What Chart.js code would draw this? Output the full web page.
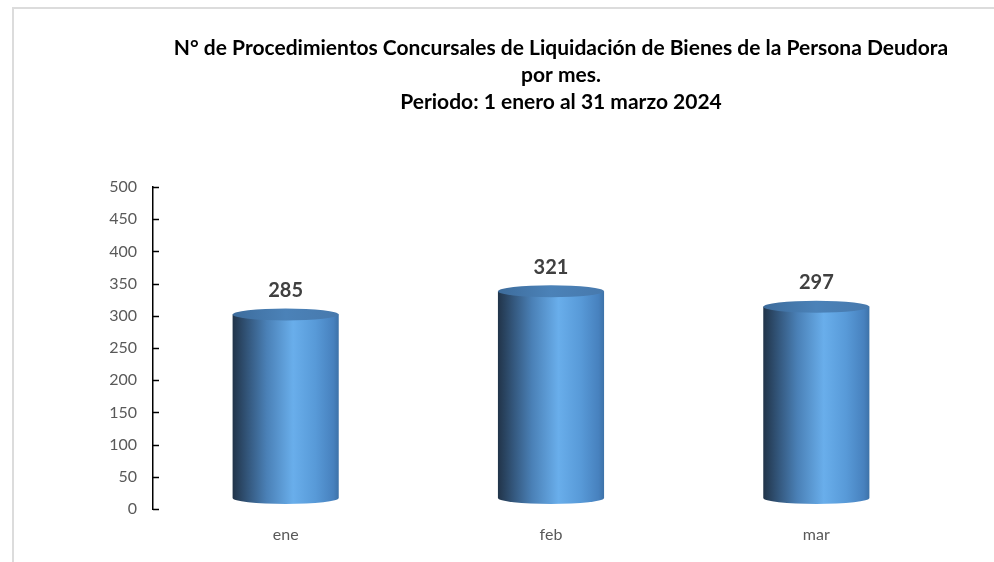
<!DOCTYPE html>
<html>
<head>
<meta charset="utf-8">
<script src="https://cdn.jsdelivr.net/npm/chart.js@4.4.1/dist/chart.umd.min.js"></script>
<style>
    html, body { margin: 0; padding: 0; background: #fff; overflow: hidden; }
    #wrap { position: relative; width: 994px; height: 562px; }
    #frame { position: absolute; left: 12px; top: 7px; width: 1100px; height: 700px; border: 2px solid #dcdcdc; }
    #chart { position: absolute; left: 0; top: 0; }
</style>
</head>
<body>
<div id="wrap">
    <div id="frame"></div>
    <canvas id="chart" width="994" height="562"></canvas>
</div>
<script>
const titleLines = [
    'N° de Procedimientos Concursales de Liquidación de Bienes de la Persona Deudora',
    'por mes.',
    'Periodo: 1 enero al 31 marzo 2024'
];
const months = ['ene', 'feb', 'mar'];
const procedimientos = [285, 321, 297];
const yMin = 0;
const yMax = 500;
const yStep = 50;

const charts = {};

// 3D offset of the Excel-style cylinders
const depth = 11;
const rimHeight = 6;

const chartTitle = {
    id: 'chartTitle',
    afterDraw(chart) {
        const ctx = chart.ctx;
        ctx.save();
        ctx.font = 'bold 21px Lato, "Open Sans", sans-serif';
        ctx.fillStyle = '#000';
        ctx.textAlign = 'center';
        ctx.textBaseline = 'middle';
        titleLines.forEach((line, i) => ctx.fillText(line, 561, 48 + i * 27));
        ctx.restore();
    }
};

const cylinders = {
    id: 'cylinders',
    afterDatasetsDraw(chart) {
        const ctx = chart.ctx;
        const meta = chart.getDatasetMeta(0);
        meta.data.forEach((bar, i) => {
            const { x, y, base, width } = bar.getProps(['x', 'y', 'base', 'width'], true);
            const l = x - width / 2, r = x + width / 2;
            const top = y - depth, bottom = base - depth;

            const body = ctx.createLinearGradient(l, 0, r, 0);
            body.addColorStop(0, '#213449');
            body.addColorStop(0.15, '#34587e');
            body.addColorStop(0.32, '#4a80b6');
            body.addColorStop(0.57, '#69aeeb');
            body.addColorStop(0.78, '#589ad8');
            body.addColorStop(0.95, '#4781be');
            body.addColorStop(1, '#3d72a8');

            ctx.save();
            ctx.fillStyle = body;
            ctx.beginPath();
            ctx.moveTo(l, top);
            ctx.lineTo(l, bottom);
            ctx.ellipse(x, bottom, width / 2, rimHeight, 0, Math.PI, 0, true);
            ctx.lineTo(r, top);
            ctx.closePath();
            ctx.fill();

            const cap = ctx.createLinearGradient(l, 0, r, 0);
            cap.addColorStop(0, '#3d6c9c');
            cap.addColorStop(0.5, '#4b82b8');
            cap.addColorStop(1, '#4779ad');
            ctx.fillStyle = cap;
            ctx.beginPath();
            ctx.ellipse(x, top, width / 2, rimHeight, 0, 0, Math.PI * 2);
            ctx.fill();

            // value label
            ctx.font = 'bold 20px Lato, "Open Sans", sans-serif';
            ctx.fillStyle = '#404040';
            ctx.textAlign = 'center';
            ctx.textBaseline = 'middle';
            ctx.fillText(procedimientos[i], x, top - 24);
            ctx.restore();
        });
    }
};

const innerTicks = {
    id: 'innerTicks',
    afterDraw(chart) {
        const ctx = chart.ctx;
        const yScale = chart.scales.y;
        ctx.save();
        ctx.strokeStyle = '#000';
        ctx.lineWidth = 1.5;
        yScale.ticks.forEach(t => {
            const py = Math.round(yScale.getPixelForValue(t.value)) + 0.5;
            ctx.beginPath();
            ctx.moveTo(yScale.right, py);
            ctx.lineTo(yScale.right + 6, py);
            ctx.stroke();
        });
        ctx.restore();
    }
};

function drawProcedimientosChart() {
    const ctx = document.getElementById('chart').getContext('2d');
    if (charts.main) charts.main.destroy();

    charts.main = new Chart(ctx, {
        type: 'bar',
        data: {
            labels: months,
            datasets: [{
                label: 'Procedimientos',
                data: procedimientos,
                backgroundColor: 'rgba(0,0,0,0)',
                barPercentage: 0.4,
                categoryPercentage: 1
            }]
        },
        options: {
            responsive: false,
            animation: false,
            layout: {
                padding: { top: 187, right: 45, left: 0, bottom: 0 }
            },
            scales: {
                x: {
                    grid: { display: false, drawTicks: false },
                    border: { display: false },
                    ticks: {
                        color: '#595959',
                        font: { family: 'Lato', size: 16 },
                        padding: 16
                    },
                    afterFit: s => { s.height = 53; }
                },
                y: {
                    min: yMin,
                    max: yMax,
                    grid: { display: false, drawTicks: false },
                    border: { display: true, color: '#000', width: 1.5 },
                    ticks: {
                        stepSize: yStep,
                        color: '#595959',
                        font: { family: 'Lato', size: 16 },
                        padding: 16
                    },
                    afterFit: s => { s.width = 153; }
                }
            },
            plugins: {
                legend: { display: false },
                tooltip: { enabled: false },
                title: { display: false }
            }
        },
        plugins: [cylinders, innerTicks, chartTitle]
    });
}

drawProcedimientosChart();
</script>
</body>
</html>
